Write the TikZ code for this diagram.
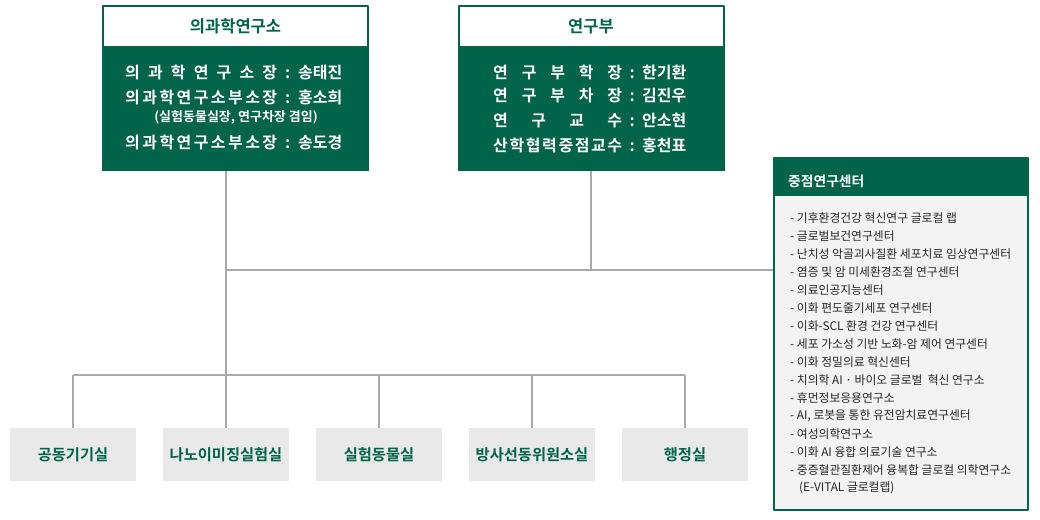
\documentclass[tikz,border=0pt]{standalone}
\usepackage{fontspec}
\setmainfont{Noto Sans CJK KR}[BoldFont={Noto Sans CJK KR Bold}]
\definecolor{kgreen}{RGB}{0,100,72}
\definecolor{kline}{RGB}{170,170,170}
\definecolor{kbox}{RGB}{233,233,233}
\definecolor{kpane}{RGB}{243,243,243}
\begin{document}
\begin{tikzpicture}[x=1pt,y=-1pt,line join=round,
    link/.style={draw=kline,line width=2pt},
    headbox/.style={draw=kgreen,line width=2pt,fill=white,minimum width=265pt,minimum height=41pt,inner sep=0pt,text=kgreen,font=\fontsize{16.5}{18}\selectfont\bfseries},
    bodybox/.style={fill=kgreen,minimum width=267pt,minimum height=124pt,inner sep=0pt},
    row/.style={anchor=west,inner sep=0pt,text=white,font=\fontsize{16}{18}\selectfont\bfseries},
    labbox/.style={fill=kbox,minimum width=126pt,minimum height=53pt,inner sep=0pt,text=kgreen,font=\fontsize{15.3}{17}\selectfont\bfseries},
    item/.style={anchor=west,inner sep=0pt,text=black!85,font=\fontsize{11.8}{13}\selectfont}]
    \useasboundingbox (0,0) rectangle (1040,519);
    \def\wa{152pt} % label width, left box
    \def\wb{129pt} % label width, right box
    % 의과학연구소
    \node[bodybox] (imsbody) at (235.5,109) {};
    \node[headbox] (ims) at (235.5,26.5) {의과학연구소};
    \node[row] (ims1) at (125,72) {\makebox[\wa][s]{의\hfil 과\hfil 학\hfil 연\hfil 구\hfil 소\hfil 장}\makebox[21pt]{:}송태진};
    \node[row] (ims2) at (125,97) {\makebox[\wa][s]{의\hfil 과\hfil 학\hfil 연\hfil 구\hfil 소\hfil 부\hfil 소\hfil 장}\makebox[21pt]{:}홍소희};
    \node[row,anchor=center,font=\fontsize{13}{14}\selectfont\bfseries] (ims3) at (236,117) {(실험동물실장, 연구차장 겸임)};
    \node[row] (ims4) at (125,142) {\makebox[\wa][s]{의\hfil 과\hfil 학\hfil 연\hfil 구\hfil 소\hfil 부\hfil 소\hfil 장}\makebox[21pt]{:}송도경};
    % 연구부
    \node[bodybox] (rdbody) at (591,109) {};
    \node[headbox] (rd) at (591,26.5) {연구부};
    \node[row] (rd1) at (493,72) {\makebox[\wb][s]{연\hfil 구\hfil 부\hfil 학\hfil 장}\makebox[20pt]{:}한기환};
    \node[row] (rd2) at (493,96) {\makebox[\wb][s]{연\hfil 구\hfil 부\hfil 차\hfil 장}\makebox[20pt]{:}김진우};
    \node[row] (rd3) at (493,120) {\makebox[\wb][s]{연\hfil 구\hfil 교\hfil 수}\makebox[20pt]{:}안소현};
    \node[row] (rd4) at (493,145) {\makebox[\wb][s]{산\hfil 학\hfil 협\hfil 력\hfil 중\hfil 점\hfil 교\hfil 수}\makebox[20pt]{:}홍천표};
    % 중점연구센터
    \node[draw=kgreen,line width=2pt,fill=kpane,minimum width=254pt,minimum height=352pt,inner sep=0pt] (core) at (901,334) {};
    \node[fill=kgreen,minimum width=254pt,minimum height=38pt,inner sep=0pt] (corehd) at (901,177) {};
    \node[anchor=west,inner sep=0pt,text=white,font=\fontsize{13.8}{15}\selectfont\bfseries] (coretitle) at (788,181) {중점연구센터};
    \foreach \t [count=\i] in {기후환경건강 혁신연구 글로컬 랩, 글로벌보건연구센터, 난치성 악골괴사질환 세포치료 임상연구센터,
        염증 및 암 미세환경조절 연구센터, 의료인공지능센터, 이화 편도줄기세포 연구센터, 이화-SCL 환경 건강 연구센터,
        세포 가소성 기반 노화-암 제어 연구센터, 이화 정밀의료 혁신센터, 치의학 AI · 바이오 글로벌~ 혁신 연구소,
        휴먼정보응용연구소, {AI, 로봇을 통한 유전암치료연구센터}, 여성의학연구소, 이화 AI 융합 의료기술 연구소,
        중증혈관질환제어 융복합 글로컬 의학연구소}
        \node[item] (c\i) at (790,{200+18*\i}) {- \t};
    \node[item] (c16) at (799,488) {(E-VITAL 글로컬랩)};
    % 하부 조직
    \foreach \t [count=\i] in {공동기기실,나노이미징실험실,실험동물실,방사선동위원소실,행정실}
        \node[labbox] (lab\i) at ({-80+153*\i},454.5) {\t};
    % connectors
    \coordinate (bus) at (226,270);
    \coordinate (fork) at (226,375);
    \draw[link] (imsbody.south -| bus) -- (fork);
    \draw[link] (rdbody.south) -- (rdbody.south |- bus);
    \draw[link] (bus) -- (core.west |- bus);
    \draw[link] (lab1.north |- fork) -- (lab5.north |- fork);
    \foreach \i in {1,...,5} \draw[link] (lab\i.north |- fork) -- (lab\i.north);
\end{tikzpicture}
\end{document}
